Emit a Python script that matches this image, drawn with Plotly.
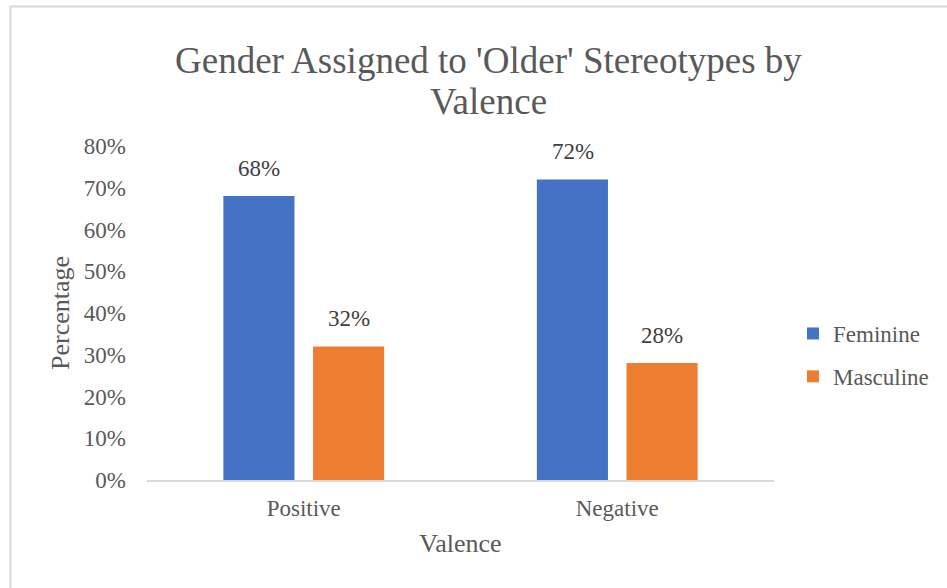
import plotly.graph_objects as go

# Share of 'older' stereotypes assigned to each gender, split by valence
categories = ["Positive", "Negative"]
feminine = [0.68, 0.72]
masculine = [0.32, 0.28]
y_ticks = [0, 0.1, 0.2, 0.3, 0.4, 0.5, 0.6, 0.7, 0.8]
title_lines = ["Gender Assigned to 'Older' Stereotypes by", "Valence"]

FONT = "Liberation Serif"
GREY = "#595959"
LABEL = "#404040"

# plot-area geometry (pixels)
L, R, T, B = 147, 173, 146, 108
W, H = 947 - L - R, 588 - T - B

fig = go.Figure()
series = [("Feminine", feminine, "#4472C4", -1), ("Masculine", masculine, "#ED7D31", 1)]
for name, vals, color, side in series:
    fig.add_trace(go.Bar(
        name=name, x=categories, y=vals,
        marker=dict(color=color, line=dict(width=0)),
        legendgroup=name,
    ))
    # value labels above each bar
    for cat, v in zip(categories, vals):
        fig.add_annotation(
            x=cat, y=v, xref="x", yref="y",
            text=f"{v:.0%}", showarrow=False,
            xanchor="center", yanchor="bottom",
            xshift=side * 44.75, yshift=13,
            font=dict(family=FONT, size=23, color=LABEL),
        )

# two-line chart title
for i, line in enumerate(title_lines):
    fig.add_annotation(
        x=(488 - L) / W, y=(480 - 60 - 41 * i) / H, xref="paper", yref="paper",
        text=line, showarrow=False, xanchor="center", yanchor="middle",
        font=dict(family=FONT, size=37, color=GREY),
    )

fig.update_layout(
    width=947, height=588,
    margin=dict(l=L, r=R, t=T, b=B),
    paper_bgcolor="white", plot_bgcolor="white",
    barmode="group", bargap=0.428, bargroupgap=0.207,
    font=dict(family=FONT, color=GREY, size=23),
    xaxis=dict(
        showline=True, linecolor="#d9d9d9", linewidth=1.5,
        ticks="", showgrid=False, ticklabelstandoff=7,
        tickfont=dict(family=FONT, size=23, color=GREY),
        title=dict(text="Valence", font=dict(family=FONT, size=26, color=GREY), standoff=13),
    ),
    yaxis=dict(
        range=[0, 0.8], tickvals=y_ticks, tickformat=".0%",
        showline=False, showgrid=False, zeroline=False, ticks="",
        ticklabelstandoff=20,
        tickfont=dict(family=FONT, size=23, color=GREY),
        title=dict(text="Percentage", font=dict(family=FONT, size=26, color=GREY), standoff=6),
    ),
    legend=dict(
        x=(793 - L) / W, xanchor="left", y=(480 - 355) / H, yanchor="middle",
        font=dict(family=FONT, size=23, color=GREY),
        itemwidth=30, traceorder="grouped", tracegroupgap=10,
    ),
    showlegend=True,
)

# light outer frame around the chart area
fig.add_shape(
    type="rect", xref="paper", yref="paper",
    x0=(10.5 - L) / W, x1=2.0,
    y0=-1.0, y1=(480 - 6.5) / H,
    line=dict(color="#d9d9d9", width=2), fillcolor="rgba(0,0,0,0)",
    layer="below",
)

fig.write_html("out.html")
